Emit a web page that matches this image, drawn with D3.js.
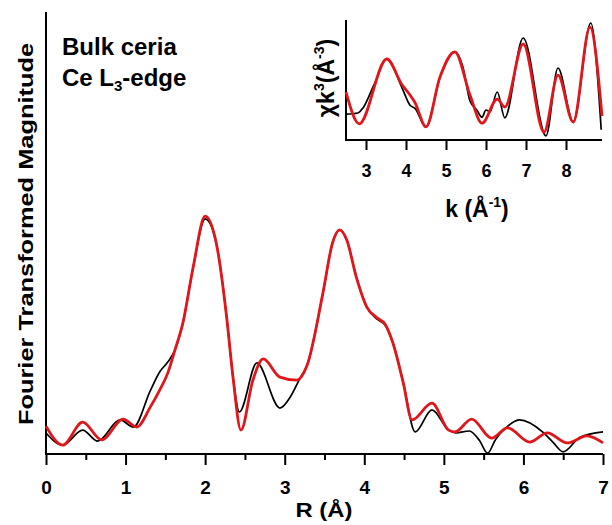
<!DOCTYPE html>
<html><head><meta charset="utf-8">
<script src="https://cdn.jsdelivr.net/npm/d3@7"></script>
<style>body{margin:0;background:#fff}svg{display:block}text{font-family:"Liberation Sans",Arial,sans-serif;font-weight:bold}</style>
</head><body><svg id="c" width="612" height="525"></svg>
<script>
// Main FT magnitude (arbitrary units)
const ftDataR = [0,0.21,0.46,0.65,0.93,1.10,1.31,1.43,1.53,1.62,1.72,1.85,2.00,2.15,2.27,2.35,2.43,2.65,2.94,3.07,3.20,3.28,3.48,3.60,3.69,3.78,3.90,4.03,4.16,4.26,4.36,4.49,4.64,4.85,5.06,5.15,5.32,5.45,5.55,5.65,5.79,5.95,6.24,6.37,6.50,6.71,7.00];
const ftDataV = [0.475,0.20,0.54,0.29,0.77,0.61,1.43,1.86,2.08,2.35,2.96,4.23,5.32,4.68,3.10,1.74,0.95,2.06,1.04,1.29,1.74,2.0,3.64,4.77,5.07,4.84,4.00,3.33,3.05,2.92,2.51,1.61,0.50,1.0,0.54,0.48,0.52,0.30,0.02,0.33,0.61,0.77,0.50,0.27,0.05,0.38,0.50];
const ftFitR = [0,0.21,0.46,0.70,0.97,1.14,1.31,1.43,1.53,1.62,1.72,1.85,2.00,2.15,2.27,2.35,2.45,2.60,2.73,2.94,3.15,3.28,3.48,3.60,3.69,3.78,3.90,4.03,4.16,4.26,4.36,4.49,4.60,4.85,5.06,5.14,5.35,5.60,5.80,6.08,6.30,6.55,6.80,7.00];
const ftFitV = [0.63,0.20,0.72,0.32,0.79,0.61,1.06,1.45,1.83,2.35,2.96,4.23,5.38,4.68,3.10,1.74,0.54,1.67,2.15,1.74,1.67,2.0,3.64,4.77,5.07,4.84,4.00,3.33,3.08,2.94,2.51,1.61,0.77,1.15,0.54,0.50,0.79,0.36,0.59,0.27,0.48,0.25,0.41,0.25];
// Inset chi(k)*k^3 (arbitrary units)
const chiDataK = [2.5,2.8,2.92,3.2,3.52,3.9,4.1,4.22,4.5,4.85,5.22,5.42,5.6,5.77,5.9,6.0,6.1,6.28,6.47,6.93,7.5,7.8,8.18,8.62,8.88];
const chiDataV = [-0.57,-0.55,-0.47,-0.08,0.35,-0.13,-0.42,-0.47,-0.78,0.05,0.47,0.22,-0.35,-0.5,-0.62,-0.5,-0.53,-0.2,-0.63,0.70,-0.93,0.20,-0.70,0.95,-0.83];
const chiFitK = [2.5,2.83,3.52,3.9,4.1,4.22,4.5,4.85,5.22,5.6,5.9,6.28,6.47,6.93,7.45,7.8,8.18,8.6,8.9];
const chiFitV = [-0.2,-0.73,0.35,-0.08,-0.25,-0.37,-0.78,0.05,0.47,-0.25,-0.72,-0.32,-0.45,0.60,-0.87,0.08,-0.70,0.88,-0.6];
const mainTicks = [0,1,2,3,4,5,6,7];
const mainMinor = [0.5,1.5,2.5,3.5,4.5,5.5,6.5];
const insetTicks = [3,4,5,6,7,8];

const svg = d3.select("#c");
const x = d3.scaleLinear().domain([0,7]).range([46,603]);
const y = d3.scaleLinear().domain([0,10]).range([454,12]);
const line = d3.line().x(d=>x(d[0])).y(d=>y(d[1])).curve(d3.curveMonotoneX);
const zip=(a,b)=>a.map((v,i)=>[v,b[i]]);

// main axes
svg.append("g").attr("transform","translate(0,454)")
  .call(d3.axisBottom(x).tickValues(mainTicks).tickFormat(d3.format("d")).tickSize(11).tickPadding(16))
  .call(g=>{g.select(".domain").attr("stroke-width",2).attr("d","M46,0H603");g.selectAll(".tick line").attr("stroke-width",2);g.selectAll("text").attr("font-size",19).attr("font-family","Liberation Sans").attr("font-weight","bold").attr("fill","#000");});
svg.append("g").attr("transform","translate(0,454)")
  .call(d3.axisBottom(x).tickValues(mainMinor).tickFormat("").tickSize(6))
  .call(g=>{g.select(".domain").remove();g.selectAll(".tick line").attr("stroke-width",2);});
svg.append("line").attr("x1",46).attr("x2",46).attr("y1",12).attr("y2",455).attr("stroke","#000").attr("stroke-width",2);

svg.append("path").attr("d",line(zip(ftDataR,ftDataV))).attr("fill","none").attr("stroke","#000").attr("stroke-width",1.7);
svg.append("path").attr("d",line(zip(ftFitR,ftFitV))).attr("fill","none").attr("stroke","#e0161b").attr("stroke-width",2.8);

svg.append("text").attr("x",324).attr("y",517).attr("text-anchor","middle").attr("font-size",21).attr("textLength",57).attr("lengthAdjust","spacingAndGlyphs").text("R (Å)");
svg.append("text").attr("transform","translate(33,234) rotate(-90)").attr("text-anchor","middle").attr("font-size",21).attr("textLength",382).attr("lengthAdjust","spacingAndGlyphs").text("Fourier Transformed Magnitude");
svg.append("text").attr("x",62).attr("y",55).attr("font-size",24).text("Bulk ceria");
const t2=svg.append("text").attr("x",62).attr("y",86).attr("font-size",24);
t2.append("tspan").text("Ce L");
t2.append("tspan").attr("font-size",15).attr("dy",5).text("3");
t2.append("tspan").attr("dy",-5).text("-edge");

// inset
const xi = d3.scaleLinear().domain([2.5,8.9]).range([346,602]);
const yi = d3.scaleLinear().domain([-1,1]).range([140,20]);
const li = d3.line().x(d=>xi(d[0])).y(d=>yi(d[1])).curve(d3.curveMonotoneX);
svg.append("g").attr("transform","translate(0,140)")
  .call(d3.axisBottom(xi).tickValues(insetTicks).tickFormat(d3.format("d")).tickSize(10).tickPadding(14))
  .call(g=>{g.select(".domain").attr("stroke-width",2).attr("d","M346,0H602");g.selectAll(".tick line").attr("stroke-width",2);g.selectAll("text").attr("font-size",18).attr("font-family","Liberation Sans").attr("font-weight","bold").attr("fill","#000");});
svg.append("line").attr("x1",346).attr("x2",346).attr("y1",20).attr("y2",141).attr("stroke","#000").attr("stroke-width",2);
svg.append("path").attr("d",li(zip(chiDataK,chiDataV))).attr("fill","none").attr("stroke","#000").attr("stroke-width",1.7);
svg.append("path").attr("d",li(zip(chiFitK,chiFitV))).attr("fill","none").attr("stroke","#e0161b").attr("stroke-width",2.8);

const kl=svg.append("text").attr("x",477).attr("y",217).attr("text-anchor","middle").attr("font-size",23);
kl.append("tspan").text("k (Å");
kl.append("tspan").attr("font-size",14).attr("dy",-10).text("-1");
kl.append("tspan").attr("dy",10).text(")");
const yl=svg.append("text").attr("transform","translate(334,78) rotate(-90)").attr("text-anchor","middle").attr("font-size",23);
yl.append("tspan").text("χk");
yl.append("tspan").attr("font-size",14).attr("dy",-10).text("3");
yl.append("tspan").attr("dy",10).text("(Å");
yl.append("tspan").attr("font-size",14).attr("dy",-10).text("-3");
yl.append("tspan").attr("dy",10).text(")");
</script></body></html>
